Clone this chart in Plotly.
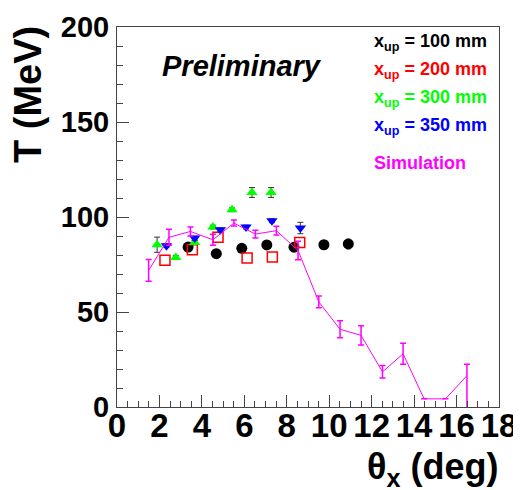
import plotly.graph_objects as go

# ---- data ----
x100 = [3.35, 4.68, 5.88, 7.06, 8.34, 9.75, 10.9]
y100 = [84.2, 80.7, 83.5, 85.3, 84.1, 85.4, 85.8]
e100 = [1.5, 1.2, 1.2, 1.5, 1.5, 1.5, 2.5]

x200 = [2.26, 3.55, 4.76, 6.13, 7.32, 8.61]
y200 = [77.2, 82.8, 89.3, 78.4, 79.0, 86.6]

x300 = [1.89, 2.77, 3.66, 4.52, 5.42, 6.36, 7.26]
y300 = [85.4, 78.7, 86.6, 94.7, 103.8, 112.9, 112.9]
e300 = [4.0, 1.0, 1.0, 1.0, 1.0, 2.6, 2.6]

x350 = [2.33, 3.66, 4.87, 6.08, 7.30, 8.64]
y350 = [84.9, 88.9, 93.3, 94.7, 98.0, 94.2]
e350 = [1.0, 1.0, 1.0, 1.0, 1.0, 3.0]

xsim = [1.49, 2.45, 3.46, 4.52, 5.51, 6.52, 7.51, 8.53, 9.51, 10.51, 11.5, 12.51, 13.48, 14.47, 15.48, 16.49]
ysim = [71.9, 89.3, 92.4, 88.0, 96.8, 91.0, 92.8, 82.4, 55.3, 40.9, 37.7, 18.5, 28.0, 4.3, 4.3, 16.5]
esim_up = [5.7, 4.2, 2.4, 2.9, 1.6, 2.0, 2.3, 4.9, 3.1, 4.5, 5.1, 3.3, 5.5, 0, 0, 6.0]
esim_dn = [5.7, 4.2, 2.4, 2.9, 1.6, 2.0, 2.3, 4.9, 3.1, 4.5, 5.1, 3.3, 5.5, 0, 0, 18.0]

legend_labels = ["x<sub>up</sub> = 100 mm", "x<sub>up</sub> = 200 mm",
                 "x<sub>up</sub> = 300 mm", "x<sub>up</sub> = 350 mm", "Simulation"]
legend_colors = ["#000000", "#ff0000", "#00ff00", "#0000ff", "#ff00ff"]

xticks = [0, 2, 4, 6, 8, 10, 12, 14, 16, 18]
yticks = [0, 50, 100, 150, 200]

fig = go.Figure()

fig.add_trace(go.Scatter(
    x=x100, y=y100, mode="markers",
    marker=dict(symbol="circle", size=11, color="#000000"),
    error_y=dict(type="data", array=e100, color="#000000", thickness=1, width=2)))
fig.add_trace(go.Scatter(
    x=x200, y=y200, mode="markers",
    marker=dict(symbol="square-open", size=10, color="#ff0000", line=dict(width=1.5))))
fig.add_trace(go.Scatter(
    x=x300, y=y300, mode="markers",
    marker=dict(symbol="triangle-up", size=10, color="#00ff00"),
    error_y=dict(type="data", array=e300, color="#333333", thickness=1, width=3)))
fig.add_trace(go.Scatter(
    x=x350, y=y350, mode="markers",
    marker=dict(symbol="triangle-down", size=10, color="#0000ff"),
    error_y=dict(type="data", array=e350, color="#333333", thickness=1, width=3)))
fig.add_trace(go.Scatter(
    x=xsim, y=ysim, mode="lines",
    line=dict(color="#ff00ff", width=1),
    error_y=dict(type="data", symmetric=False, array=esim_up, arrayminus=esim_dn,
                 color="#ff00ff", thickness=1.5, width=3)))

font_family = "Liberation Sans, Arial, sans-serif"

# page has an 8px body margin, so the figure is laid out 8px in from the top-left
OFF = 8
W, H = 521 - OFF, 490 - OFF
L, R, T, B = 117 - OFF, 22, 27 - OFF, 83

fig.update_layout(
    width=W, height=H,
    margin=dict(l=L, r=R, t=T, b=B),
    paper_bgcolor="white", plot_bgcolor="white",
    showlegend=False,
    font=dict(family=font_family, color="black"),
    xaxis=dict(
        range=[0, 18], tickvals=xticks, ticktext=[str(v) for v in xticks],
        ticks="inside", ticklen=12, tickwidth=1, tickcolor="#444",
        minor=dict(dtick=0.5, ticks="inside", ticklen=6, tickcolor="#444", showgrid=False),
        showline=True, linecolor="#444", linewidth=1, mirror=True,
        showgrid=False, zeroline=False, automargin=False,
        tickfont=dict(size=33, family=font_family, weight="bold"),
        ticklabelstandoff=-11,
    ),
    yaxis=dict(
        range=[0, 200], tickvals=yticks, ticktext=[str(v) for v in yticks],
        ticks="inside", ticklen=12, tickwidth=1, tickcolor="#444",
        minor=dict(dtick=10, ticks="inside", ticklen=6, tickcolor="#444", showgrid=False),
        showline=True, linecolor="#444", linewidth=1, mirror=True,
        showgrid=False, zeroline=False, automargin=False,
        tickfont=dict(size=29, family=font_family, weight="bold"),
        ticklabelstandoff=1,
    ),
)

pw, ph = W - L - R, H - T - B


def px(xp):
    return (xp - OFF - L) / pw


def py(yp):
    return (H - B - (yp - OFF)) / ph


ann = []
ann.append(dict(text="<b>T (MeV)</b>", x=px(28), y=py(95), xanchor="center", yanchor="middle",
                textangle=-90, font=dict(size=38)))
ann.append(dict(text="<b>θ<sub>x</sub> (deg)</b>", x=px(500), y=py(469),
                xanchor="right", yanchor="middle", font=dict(size=36)))
ann.append(dict(text="<b><i>Preliminary</i></b>", x=px(242), y=py(66),
                xanchor="center", yanchor="middle", font=dict(size=29)))
rows = [42, 70, 98, 126, 163]
for lab, col, ry in zip(legend_labels, legend_colors, rows):
    ann.append(dict(text="<b>" + lab + "</b>", x=px(372), y=py(ry),
                    xanchor="left", yanchor="middle", font=dict(size=18, color=col)))
for a in ann:
    a.update(xref="paper", yref="paper", showarrow=False)
fig.update_layout(annotations=ann)

fig.write_html("out.html")
